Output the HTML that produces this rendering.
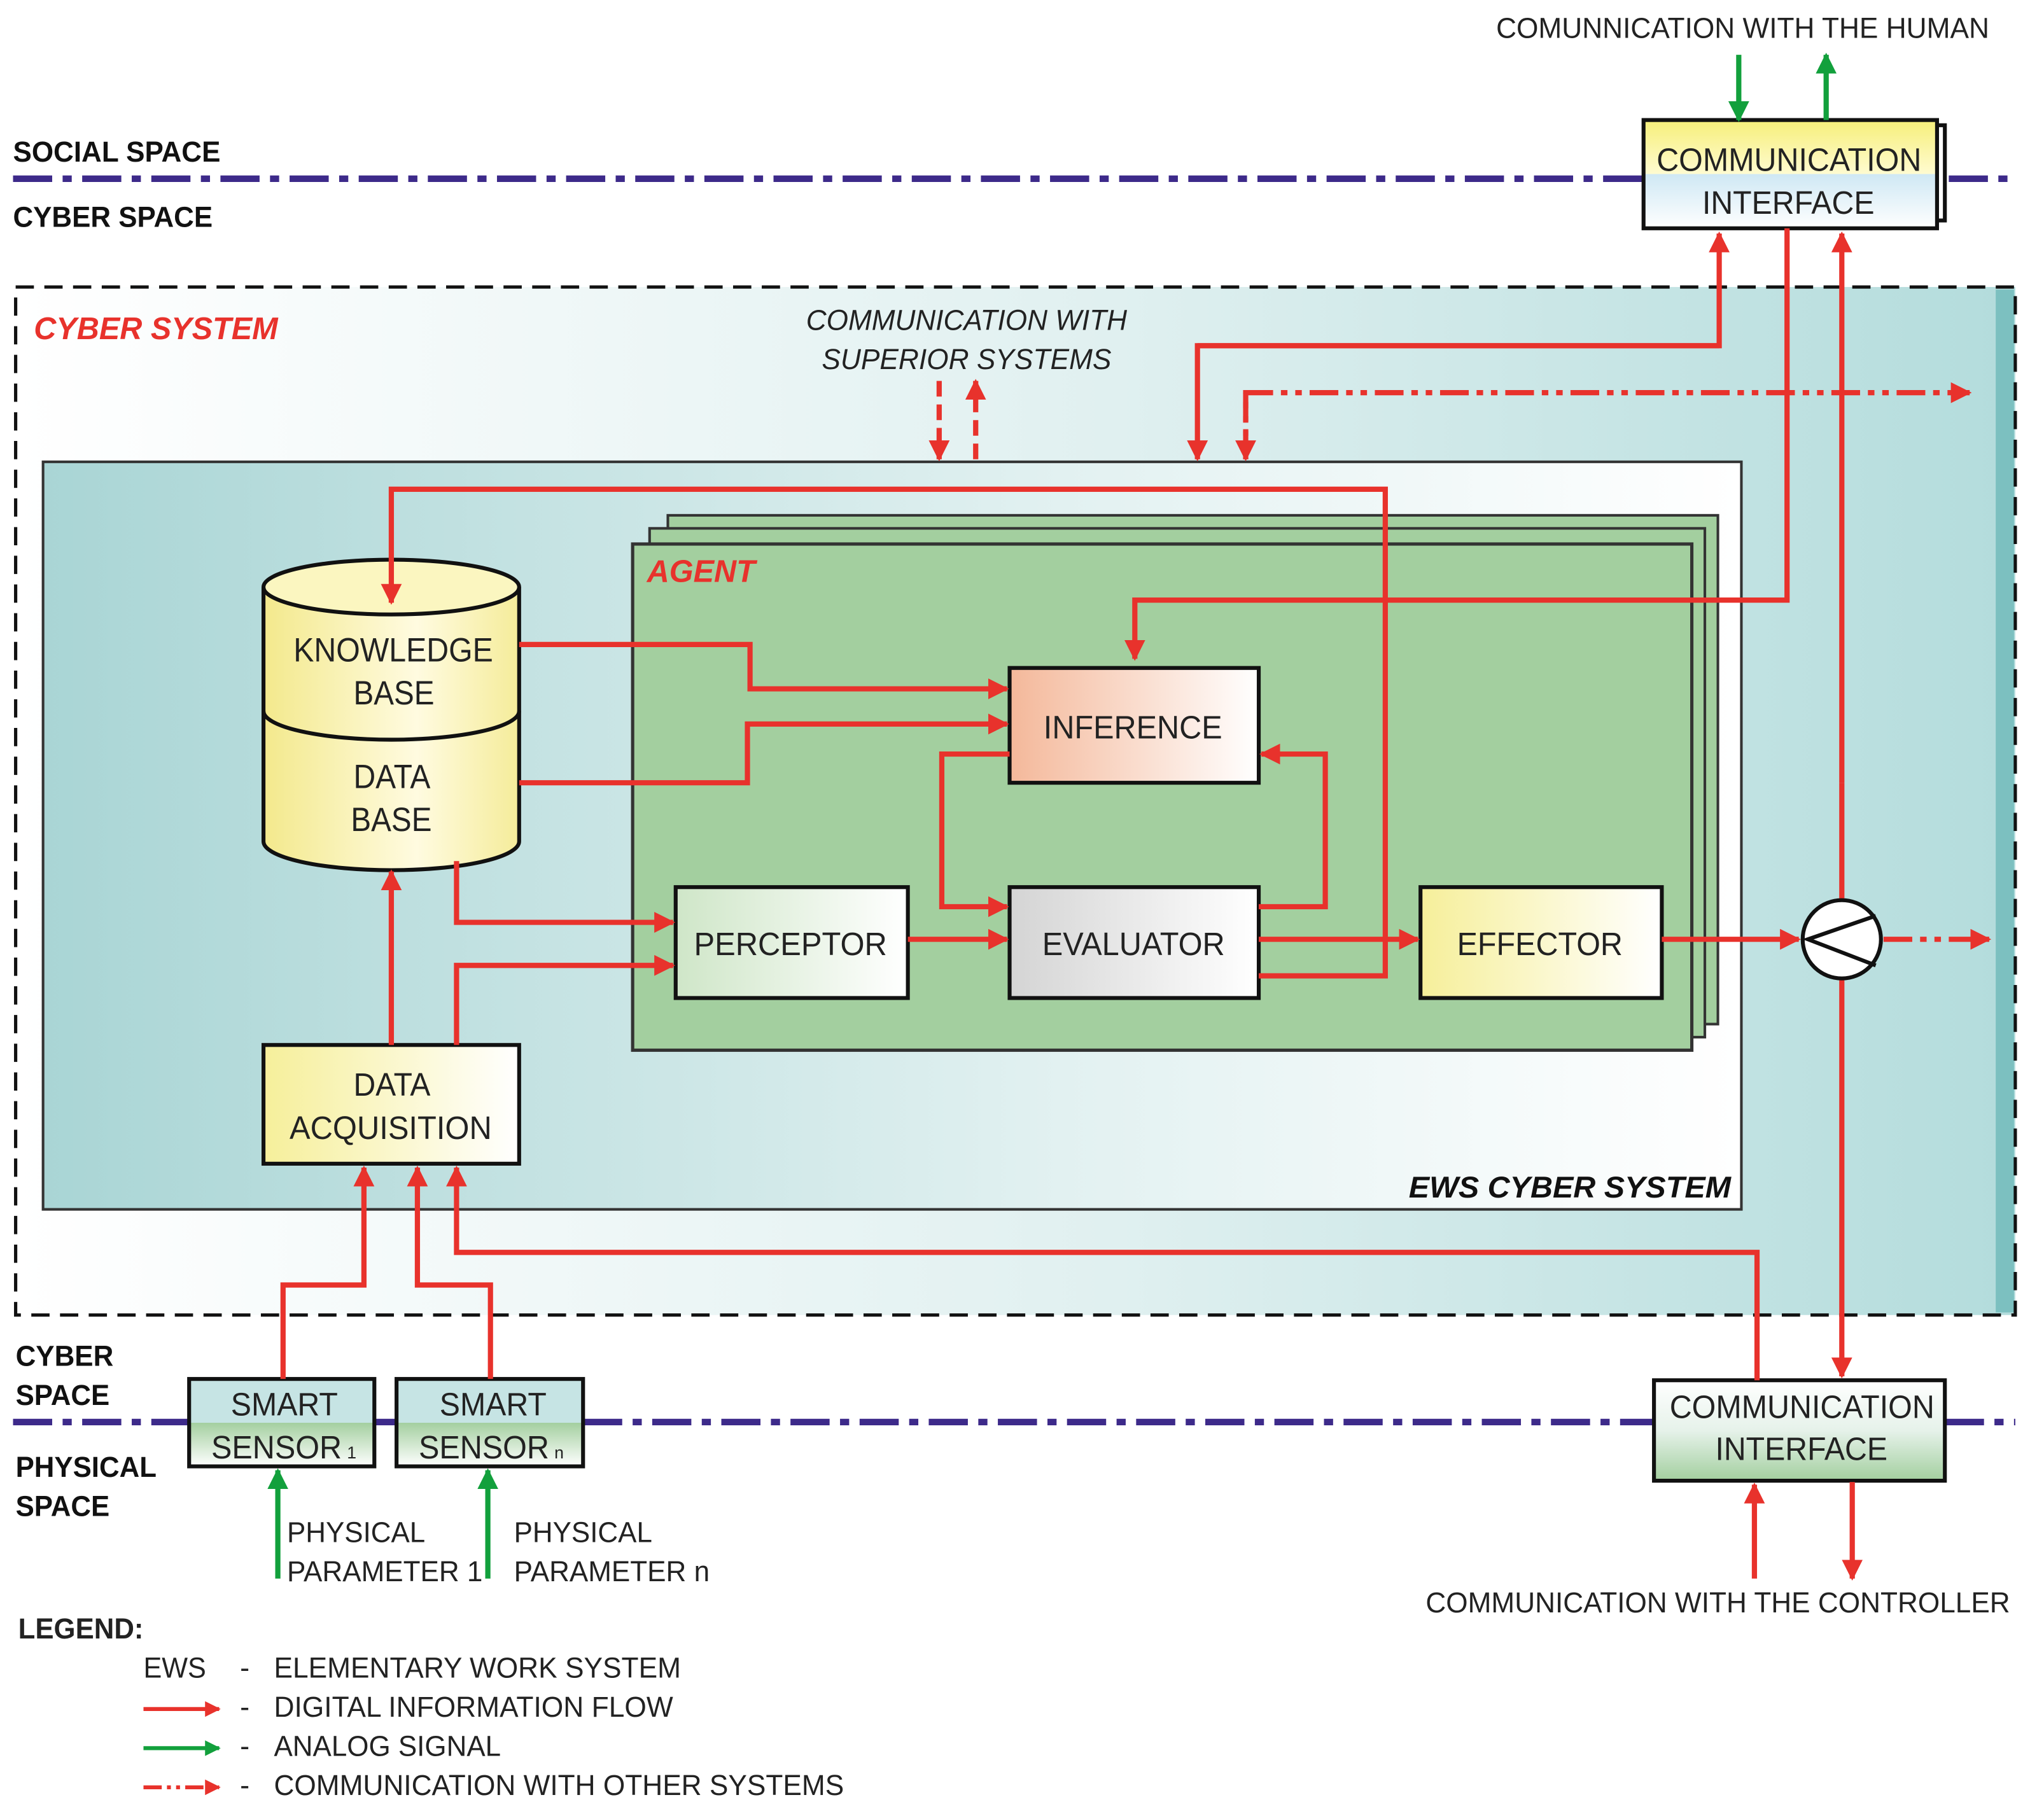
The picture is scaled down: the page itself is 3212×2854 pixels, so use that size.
<!DOCTYPE html>
<html><head><meta charset="utf-8"><style>html,body{margin:0;padding:0;background:#fff}svg{display:block}text{font-family:"Liberation Sans",sans-serif}</style></head>
<body>
<svg width="3212" height="2854" viewBox="0 0 1567 1392" preserveAspectRatio="none" xmlns="http://www.w3.org/2000/svg">
<defs>
<linearGradient id="gCS" x1="0" x2="1"><stop offset="0" stop-color="#ffffff"/><stop offset="0.55" stop-color="#e0f0f0"/><stop offset="1" stop-color="#b3dcdc"/></linearGradient>
<linearGradient id="gEWS" x1="0" x2="1"><stop offset="0" stop-color="#a9d5d5"/><stop offset="0.6" stop-color="#e2f1f1"/><stop offset="1" stop-color="#ffffff"/></linearGradient>
<linearGradient id="gY" x1="0" x2="1"><stop offset="0" stop-color="#f6ef9a"/><stop offset="1" stop-color="#ffffff"/></linearGradient>
<linearGradient id="gCyl" x1="0" x2="1"><stop offset="0" stop-color="#f3e98c"/><stop offset="0.6" stop-color="#fffbe0"/><stop offset="1" stop-color="#f5ec9a"/></linearGradient>
<linearGradient id="gInf" x1="0" x2="1"><stop offset="0" stop-color="#f4b89a"/><stop offset="1" stop-color="#ffffff"/></linearGradient>
<linearGradient id="gPer" x1="0" x2="1"><stop offset="0" stop-color="#cfe6c8"/><stop offset="1" stop-color="#ffffff"/></linearGradient>
<linearGradient id="gEva" x1="0" x2="1"><stop offset="0" stop-color="#d4d4d4"/><stop offset="1" stop-color="#ffffff"/></linearGradient>
<linearGradient id="gSen" x1="0" x2="0" y1="0" y2="1"><stop offset="0" stop-color="#c6e4e4"/><stop offset="0.5" stop-color="#c6e4e4"/><stop offset="0.5" stop-color="#a3cf9f"/><stop offset="1" stop-color="#ffffff"/></linearGradient>
<linearGradient id="gCT" x1="0" x2="0" y1="0" y2="1"><stop offset="0" stop-color="#f6ef7a"/><stop offset="0.5" stop-color="#fffbd0"/><stop offset="0.5" stop-color="#cfe8f4"/><stop offset="1" stop-color="#ffffff"/></linearGradient>
<linearGradient id="gCB" x1="0" x2="0" y1="0" y2="1"><stop offset="0" stop-color="#ffffff"/><stop offset="0.5" stop-color="#e6f2ea"/><stop offset="1" stop-color="#a3cf9f"/></linearGradient>
<marker id="ar" viewBox="0 0 10 10" refX="9" refY="5" markerWidth="4" markerHeight="4" orient="auto" markerUnits="strokeWidth"><path d="M0,0 L10,5 L0,10 z" fill="#e8322c"/></marker>
<marker id="ag" viewBox="0 0 10 10" refX="9" refY="5" markerWidth="4" markerHeight="4" orient="auto" markerUnits="strokeWidth"><path d="M0,0 L10,5 L0,10 z" fill="#12a03c"/></marker>
</defs>

<g stroke="#3d2a8a" stroke-width="5" stroke-dasharray="30 8 7 8" fill="none">
<line x1="10" y1="137" x2="1545" y2="137"/>
<line x1="10" y1="1090" x2="145" y2="1090"/>
<line x1="287" y1="1090" x2="304" y2="1090"/>
<line x1="447" y1="1090" x2="1268" y2="1090"/>
<line x1="1491" y1="1090" x2="1545" y2="1090"/>
</g>
<g font-size="22" font-weight="bold" fill="#111">
<text x="10" y="124" textLength="159" lengthAdjust="spacingAndGlyphs">SOCIAL SPACE</text>
<text x="10" y="174" textLength="153" lengthAdjust="spacingAndGlyphs">CYBER SPACE</text>
<text x="12" y="1047" textLength="75" lengthAdjust="spacingAndGlyphs">CYBER</text><text x="12" y="1077" textLength="72" lengthAdjust="spacingAndGlyphs">SPACE</text>
<text x="12" y="1132" textLength="108" lengthAdjust="spacingAndGlyphs">PHYSICAL</text><text x="12" y="1162" textLength="72" lengthAdjust="spacingAndGlyphs">SPACE</text>
</g>

<rect x="12" y="220" width="1533" height="788" fill="url(#gCS)"/>
<rect x="1530" y="222" width="14" height="784" fill="#7cc0c0"/>
<rect x="12" y="220" width="1533" height="788" fill="none" stroke="#111" stroke-width="2.5" stroke-dasharray="14 8"/>
<text x="26" y="260" font-size="24" font-weight="bold" font-style="italic" fill="#e8322c" textLength="187" lengthAdjust="spacingAndGlyphs">CYBER SYSTEM</text>
<text x="618" y="253" font-size="22" font-style="italic" fill="#222" textLength="246" lengthAdjust="spacingAndGlyphs">COMMUNICATION WITH</text>
<text x="630" y="283" font-size="22" font-style="italic" fill="#222" textLength="222" lengthAdjust="spacingAndGlyphs">SUPERIOR SYSTEMS</text>

<rect x="33" y="354" width="1302" height="573" fill="url(#gEWS)" stroke="#333" stroke-width="2"/>
<text x="1080" y="918" font-size="23" font-weight="bold" font-style="italic" fill="#111" textLength="247" lengthAdjust="spacingAndGlyphs">EWS CYBER SYSTEM</text>

<rect x="512" y="395" width="805" height="390" fill="#a3cf9f" stroke="#333" stroke-width="2"/>
<rect x="498" y="405" width="809" height="390" fill="#a3cf9f" stroke="#333" stroke-width="2"/>
<rect x="485" y="417" width="812" height="388" fill="#a3cf9f" stroke="#333" stroke-width="2.5"/>
<text x="496" y="446" font-size="24" font-weight="bold" font-style="italic" fill="#e8322c" textLength="83" lengthAdjust="spacingAndGlyphs">AGENT</text>

<path d="M202,450 L202,645 A98,22 0 0 0 398,645 L398,450" fill="url(#gCyl)" stroke="#111" stroke-width="3"/>
<ellipse cx="300" cy="450" rx="98" ry="21" fill="#fbf6c0" stroke="#111" stroke-width="3"/>
<path d="M202,545 A98,22 0 0 0 398,545" fill="none" stroke="#111" stroke-width="3"/>
<g font-size="26" fill="#222">
<text x="225" y="507" textLength="153" lengthAdjust="spacingAndGlyphs">KNOWLEDGE</text><text x="271" y="540" textLength="62" lengthAdjust="spacingAndGlyphs">BASE</text>
<text x="271" y="604" textLength="59" lengthAdjust="spacingAndGlyphs">DATA</text><text x="269" y="637" textLength="62" lengthAdjust="spacingAndGlyphs">BASE</text>
</g>

<g stroke="#111" stroke-width="3">
<rect x="774" y="512" width="191" height="88" fill="url(#gInf)"/>
<rect x="518" y="680" width="178" height="85" fill="url(#gPer)"/>
<rect x="774" y="680" width="191" height="85" fill="url(#gEva)"/>
<rect x="1089" y="680" width="185" height="85" fill="url(#gY)"/>
<rect x="202" y="801" width="196" height="91" fill="url(#gY)"/>
<rect x="1266" y="96" width="225" height="73" fill="#fff"/>
<rect x="1260" y="92" width="225" height="83" fill="url(#gCT)"/>
<rect x="1268" y="1058" width="223" height="77" fill="url(#gCB)"/>
<rect x="145" y="1057" width="142" height="67" fill="url(#gSen)"/>
<rect x="304" y="1057" width="143" height="67" fill="url(#gSen)"/>
</g>
<g font-size="25" fill="#222">
<text x="800" y="566" textLength="137" lengthAdjust="spacingAndGlyphs">INFERENCE</text>
<text x="532" y="732" textLength="148" lengthAdjust="spacingAndGlyphs">PERCEPTOR</text>
<text x="799" y="732" textLength="140" lengthAdjust="spacingAndGlyphs">EVALUATOR</text>
<text x="1117" y="732" textLength="127" lengthAdjust="spacingAndGlyphs">EFFECTOR</text>
<text x="271" y="840" textLength="59" lengthAdjust="spacingAndGlyphs">DATA</text><text x="222" y="873" textLength="155" lengthAdjust="spacingAndGlyphs">ACQUISITION</text>
<text x="1270" y="131" textLength="203" lengthAdjust="spacingAndGlyphs">COMMUNICATION</text><text x="1305" y="164" textLength="132" lengthAdjust="spacingAndGlyphs">INTERFACE</text>
<text x="1280" y="1087" textLength="203" lengthAdjust="spacingAndGlyphs">COMMUNICATION</text><text x="1315" y="1119" textLength="132" lengthAdjust="spacingAndGlyphs">INTERFACE</text>
<text x="177" y="1085" textLength="82" lengthAdjust="spacingAndGlyphs">SMART</text><text x="162" y="1118" textLength="100" lengthAdjust="spacingAndGlyphs">SENSOR</text><text x="266" y="1118" font-size="13">1</text>
<text x="337" y="1085" textLength="82" lengthAdjust="spacingAndGlyphs">SMART</text><text x="321" y="1118" textLength="100" lengthAdjust="spacingAndGlyphs">SENSOR</text><text x="425" y="1118" font-size="13">n</text>
</g>

<g stroke="#e8322c" stroke-width="4" fill="none">
<polyline points="918,265 1318,265 1318,179" marker-end="url(#ar)"/>
<polyline points="1318,265 918,265 918,352" marker-end="url(#ar)"/>
<polyline points="1370,175 1370,460 870,460 870,505" marker-end="url(#ar)"/>
<line x1="1412" y1="600" x2="1412" y2="179" marker-end="url(#ar)"/>
<line x1="1412" y1="600" x2="1412" y2="1055" marker-end="url(#ar)"/>
<polyline points="965,748 1062,748 1062,375 300,375 300,462" marker-end="url(#ar)"/>
<polyline points="398,494 575,494 575,528 772,528" marker-end="url(#ar)"/>
<polyline points="398,600 573,600 573,555 772,555" marker-end="url(#ar)"/>
<polyline points="774,578 722,578 722,695 772,695" marker-end="url(#ar)"/>
<polyline points="965,695 1016,695 1016,578 967,578" marker-end="url(#ar)"/>
<line x1="696" y1="720" x2="772" y2="720" marker-end="url(#ar)"/>
<line x1="965" y1="720" x2="1087" y2="720" marker-end="url(#ar)"/>
<line x1="1274" y1="720" x2="1379" y2="720" marker-end="url(#ar)"/>
<polyline points="350,660 350,707 516,707" marker-end="url(#ar)"/>
<polyline points="350,801 350,740 516,740" marker-end="url(#ar)"/>
<line x1="300" y1="801" x2="300" y2="668" marker-end="url(#ar)"/>
<polyline points="217,1057 217,985 279,985 279,895" marker-end="url(#ar)"/>
<polyline points="376,1057 376,985 320,985 320,895" marker-end="url(#ar)"/>
<polyline points="1347,1058 1347,960 350,960 350,895" marker-end="url(#ar)"/>
<line x1="1345" y1="1210" x2="1345" y2="1138" marker-end="url(#ar)"/>
<line x1="1420" y1="1136" x2="1420" y2="1210" marker-end="url(#ar)"/>
</g>
<g stroke="#e8322c" stroke-width="4" fill="none" stroke-dasharray="22 6 5 6 5 6">
<polyline points="955,352 955,301 1510,301" marker-end="url(#ar)"/>
<line x1="955" y1="301" x2="955" y2="352" marker-end="url(#ar)"/>
<line x1="1444" y1="720" x2="1525" y2="720" marker-end="url(#ar)"/>
</g>
<g stroke="#e8322c" stroke-width="4" fill="none" stroke-dasharray="12 6">
<line x1="720" y1="292" x2="720" y2="352" marker-end="url(#ar)"/>
<line x1="748" y1="352" x2="748" y2="292" marker-end="url(#ar)"/>
</g>
<circle cx="1412" cy="720" r="30" fill="#fff" stroke="#111" stroke-width="3"/>
<polyline points="1438,702 1386,720 1438,740" fill="none" stroke="#111" stroke-width="3"/>

<g stroke="#12a03c" stroke-width="4" fill="none">
<line x1="1333" y1="42" x2="1333" y2="92" marker-end="url(#ag)"/>
<line x1="1400" y1="92" x2="1400" y2="42" marker-end="url(#ag)"/>
<line x1="213" y1="1210" x2="213" y2="1127" marker-end="url(#ag)"/>
<line x1="374" y1="1210" x2="374" y2="1127" marker-end="url(#ag)"/>
</g>

<g font-size="22" fill="#222">
<text x="1147" y="29" textLength="378" lengthAdjust="spacingAndGlyphs">COMUNNICATION WITH THE HUMAN</text>
<text x="1093" y="1236" textLength="448" lengthAdjust="spacingAndGlyphs">COMMUNICATION WITH THE CONTROLLER</text>
<text x="220" y="1182" textLength="106" lengthAdjust="spacingAndGlyphs">PHYSICAL</text><text x="220" y="1212" textLength="150" lengthAdjust="spacingAndGlyphs">PARAMETER 1</text>
<text x="394" y="1182" textLength="106" lengthAdjust="spacingAndGlyphs">PHYSICAL</text><text x="394" y="1212" textLength="150" lengthAdjust="spacingAndGlyphs">PARAMETER n</text>
<text x="14" y="1256" font-weight="bold" textLength="96" lengthAdjust="spacingAndGlyphs">LEGEND:</text>
<text x="110" y="1286" textLength="48" lengthAdjust="spacingAndGlyphs">EWS</text><text x="184" y="1286">-</text><text x="210" y="1286" textLength="312" lengthAdjust="spacingAndGlyphs">ELEMENTARY WORK SYSTEM</text>
<text x="184" y="1316">-</text><text x="210" y="1316" textLength="306" lengthAdjust="spacingAndGlyphs">DIGITAL INFORMATION FLOW</text>
<text x="184" y="1346">-</text><text x="210" y="1346" textLength="174" lengthAdjust="spacingAndGlyphs">ANALOG SIGNAL</text>
<text x="184" y="1376">-</text><text x="210" y="1376" textLength="437" lengthAdjust="spacingAndGlyphs">COMMUNICATION WITH OTHER SYSTEMS</text>
</g>
<line x1="110" y1="1310" x2="168" y2="1310" stroke="#e8322c" stroke-width="3" marker-end="url(#ar)"/>
<line x1="110" y1="1340" x2="168" y2="1340" stroke="#12a03c" stroke-width="3" marker-end="url(#ag)"/>
<line x1="110" y1="1370" x2="168" y2="1370" stroke="#e8322c" stroke-width="3" stroke-dasharray="14 4 3 4 3 4" marker-end="url(#ar)"/>
</svg>
</body></html>
